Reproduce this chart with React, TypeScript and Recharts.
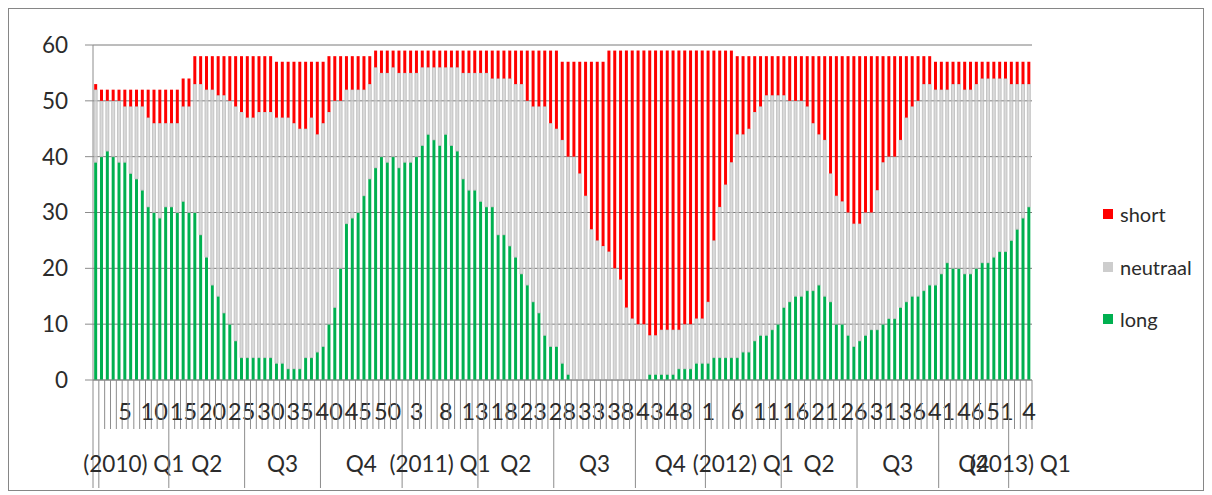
import React from "react";
import { BarChart, Bar, XAxis, YAxis, CartesianGrid, Legend } from "recharts";

// weekly positions: one unlabeled bar, then 2010-2012 (52 weeks each), then 4 weeks of 2013
const yearLengths = [52, 52, 52, 4];

const weekLabels: string[] = [""].concat(
  ...yearLengths.map((len) => Array.from({ length: len }, (_, w) => String(w + 1)))
);

const quarterLabels = ["", "(2010) Q1", "Q2", "Q3", "Q4", "(2011) Q1", "Q2", "Q3", "Q4", "(2012) Q1", "Q2", "Q3", "Q4", "(2013) Q1"];
const quarterStarts = [0, 1, 13, 26, 39, 53, 66, 79, 93, 105, 118, 131, 145, 157];

const long = [
  39, 40, 41, 40, 39, 39, 37, 36, 34, 31, 30, 29, 31, 31, 30, 32, 30, 30, 26, 22,
  17, 15, 12, 10, 7, 4, 4, 4, 4, 4, 4, 3, 3, 2, 2, 2, 4, 4, 5, 6,
  10, 13, 20, 28, 29, 30, 33, 36, 38, 40, 39, 40, 38, 39, 39, 40, 42, 44, 43, 42,
  44, 42, 41, 36, 34, 34, 32, 31, 31, 26, 26, 24, 22, 19, 17, 14, 12, 8, 6, 6,
  3, 1, 0, 0, 0, 0, 0, 0, 0, 0, 0, 0, 0, 0, 0, 1, 1, 1, 1, 1,
  2, 2, 2, 3, 3, 3, 4, 4, 4, 4, 4, 5, 5, 7, 8, 8, 9, 10, 13, 14,
  15, 15, 16, 16, 17, 15, 14, 10, 10, 8, 6, 7, 8, 9, 9, 10, 11, 11, 13, 14,
  15, 15, 16, 17, 17, 19, 21, 20, 20, 19, 19, 20, 21, 21, 22, 23, 23, 25, 27, 29,
  31,
];

const neutraal = [
  13, 10, 9, 10, 11, 10, 12, 13, 15, 16, 16, 17, 15, 15, 16, 17, 19, 23, 27, 30,
  35, 36, 39, 40, 42, 44, 43, 43, 44, 44, 44, 44, 44, 45, 44, 43, 41, 43, 39, 40,
  38, 37, 30, 24, 23, 22, 19, 17, 18, 15, 16, 16, 17, 16, 16, 15, 14, 12, 13, 14,
  12, 14, 15, 19, 21, 21, 23, 24, 23, 28, 28, 30, 31, 34, 33, 35, 37, 41, 40, 39,
  40, 39, 40, 37, 33, 27, 25, 24, 23, 20, 18, 13, 11, 10, 10, 7, 7, 8, 8, 8,
  7, 8, 8, 8, 8, 11, 21, 27, 31, 35, 40, 39, 40, 41, 41, 43, 42, 41, 38, 36,
  35, 35, 33, 30, 27, 28, 23, 23, 22, 22, 22, 21, 22, 21, 25, 29, 29, 29, 30, 33,
  34, 35, 37, 36, 35, 33, 31, 33, 33, 33, 33, 33, 33, 33, 32, 31, 31, 28, 26, 24,
  22,
];

const short = [
  1, 2, 2, 2, 2, 3, 3, 3, 3, 5, 6, 6, 6, 6, 6, 5, 5, 5, 5, 6,
  6, 7, 7, 8, 9, 10, 11, 11, 10, 10, 10, 10, 10, 10, 11, 12, 12, 10, 13, 11,
  10, 8, 8, 6, 6, 6, 6, 5, 3, 4, 4, 3, 4, 4, 4, 4, 3, 3, 3, 3,
  3, 3, 3, 4, 4, 4, 4, 4, 5, 5, 5, 5, 6, 6, 9, 10, 10, 10, 13, 14,
  14, 17, 17, 20, 24, 30, 32, 33, 36, 39, 41, 46, 48, 49, 49, 51, 51, 50, 50, 50,
  50, 49, 49, 48, 48, 45, 34, 28, 24, 20, 14, 14, 13, 10, 9, 7, 7, 7, 7, 8,
  8, 8, 9, 12, 14, 15, 21, 25, 26, 28, 30, 30, 28, 28, 24, 19, 18, 18, 15, 11,
  9, 8, 5, 5, 5, 5, 5, 4, 4, 5, 5, 4, 3, 3, 3, 3, 3, 4, 4, 4,
  4,
];

const data = weekLabels.map((week, i) => ({
  key: `b${i}`,
  week,
  long: long[i],
  neutraal: neutraal[i],
  short: short[i],
}));

const W = 1194;
const H = 481;
const Y_AXIS_W = 84;
const MARGIN = { top: 36, right: 171, left: 0, bottom: 9 };
const STEP = (W - Y_AXIS_W - MARGIN.right - MARGIN.left) / data.length;
const FONT = "Lato, 'Open Sans', sans-serif";
const TEXT = "#2b2b2b";
const LINE = "#8c8c8c";

function AxisTick(props: any) {
  const { x, y, payload } = props;
  const i = payload.index;
  const left = x - STEP / 2;
  const q = quarterStarts.indexOf(i);
  const isLast = i === data.length - 1;
  let qLabel = null;
  if (q >= 0 && quarterLabels[q]) {
    const end = q + 1 < quarterStarts.length ? quarterStarts[q + 1] : data.length;
    const cx = left + ((end - i) * STEP) / 2;
    qLabel = (
      <text x={cx} y={y + 84} dy="0.35em" textAnchor="middle" fontSize={22.5} fontFamily={FONT} fill={TEXT}>
        {quarterLabels[q]}
      </text>
    );
  }
  return (
    <g>
      <line x1={left} x2={left} y1={y} y2={q >= 0 ? y + 108 : y + 49} stroke={LINE} strokeWidth={1} />
      {isLast && <line x1={x + STEP / 2} x2={x + STEP / 2} y1={y} y2={y + 49} stroke={LINE} strokeWidth={1} />}
      {i > 0 && i % 5 === 0 && (
        <text x={x} y={y + 32} dy="0.35em" textAnchor="middle" fontSize={23.5} fontFamily={FONT} fill={TEXT}>
          {weekLabels[i]}
        </text>
      )}
      {qLabel}
    </g>
  );
}

function LegendBox({ payload }: any) {
  const items = [...(payload || [])].reverse();
  return (
    <div style={{ fontFamily: FONT, fontSize: 20, color: TEXT }}>
      {items.map((it: any) => (
        <div key={it.value} style={{ height: 52.5, display: "flex", alignItems: "center" }}>
          <span style={{ width: 10, height: 10, background: it.color, display: "inline-block", marginRight: 7 }} />
          <span>{it.value}</span>
        </div>
      ))}
    </div>
  );
}

export default function App() {
  return (
    <div style={{ width: 1196, height: 483, border: "1px solid #868686", boxSizing: "border-box", background: "#fff" }}>
      <BarChart width={W} height={H} data={data} margin={MARGIN} barCategoryGap="20%">
        <CartesianGrid vertical={false} stroke="#7a7a7a" />
        <XAxis
          dataKey="key"
          interval={0}
          tickLine={false}
          tickSize={0}
          tickMargin={0}
          height={101}
          stroke={LINE}
          tick={<AxisTick />}
        />
        <YAxis
          width={Y_AXIS_W}
          domain={[0, 60]}
          ticks={[0, 10, 20, 30, 40, 50, 60]}
          tickSize={8}
          tickMargin={17}
          stroke={LINE}
          tick={{ fontSize: 22.5, fontFamily: FONT, fill: TEXT }}
        />
        <Legend
          layout="horizontal"
          verticalAlign="middle"
          align="center"
          content={<LegendBox />}
          wrapperStyle={{ left: 1094, top: 179, width: 100 }}
        />
        <Bar dataKey="long" name="long" stackId="a" fill="#00b050" isAnimationActive={false} />
        <Bar dataKey="neutraal" name="neutraal" stackId="a" fill="#cdcdcd" fillOpacity={0.75} stroke="#b4b4b4" strokeWidth={0.7} isAnimationActive={false} />
        <Bar dataKey="short" name="short" stackId="a" fill="#ff0000" isAnimationActive={false} />
      </BarChart>
    </div>
  );
}
